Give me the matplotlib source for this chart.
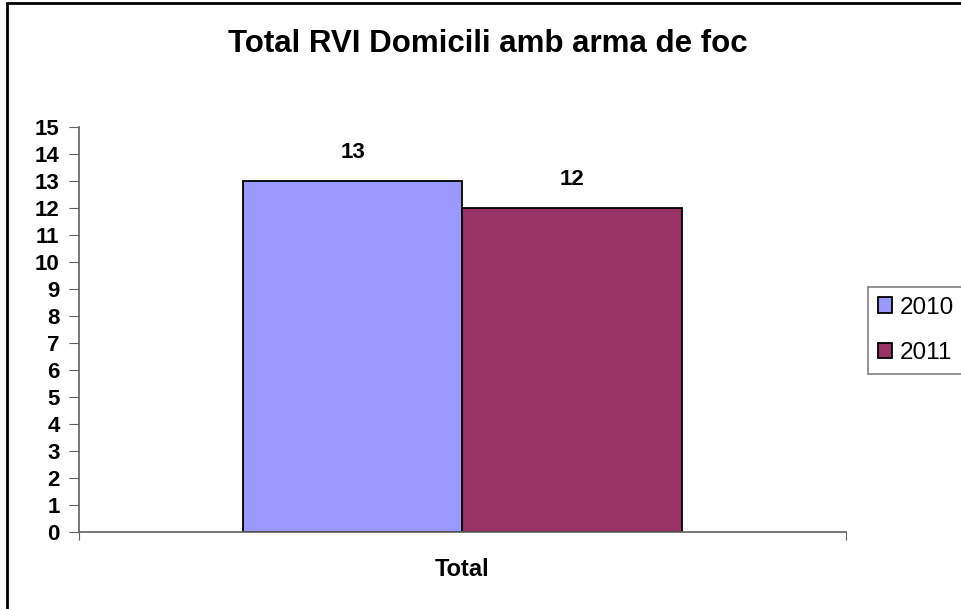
import matplotlib.pyplot as plt
import matplotlib.patches as patches
import numpy as np

plt.rcParams['font.family'] = ['Liberation Sans', 'DejaVu Sans']

# dades
categories = ['Total']
series_names = ['2010', '2011']
values_2010 = [13]
values_2011 = [12]
colors = ['#9999FF', '#993366']
yticks = list(range(0, 16))

fig = plt.figure(figsize=(9.62, 6.09), dpi=100)
ax = fig.add_axes([79 / 962, 1 - 532 / 609, (846 - 79) / 962, (532 - 127) / 609])

x = np.arange(len(categories))
w = 0.286
bars1 = ax.bar(x - w / 2, values_2010, w, color=colors[0], edgecolor='black', linewidth=1.3, label=series_names[0])
bars2 = ax.bar(x + w / 2, values_2011, w, color=colors[1], edgecolor='black', linewidth=1.3, label=series_names[1])

for b in list(bars1) + list(bars2):
    ax.annotate(str(int(b.get_height())), (b.get_x() + b.get_width() / 2, b.get_height()),
                xytext=(0, 13), textcoords='offset points', ha='center', va='bottom',
                fontsize=16, fontweight='bold')

ax.set_xlim(-0.5, 0.5)
ax.set_ylim(0, 15)
ax.set_yticks(yticks)
ax.set_yticklabels([str(t) for t in yticks], fontsize=16, fontweight='bold')
ax.set_xticks([-0.5, 0.5])
ax.set_xticklabels(['', ''])
ax.tick_params(axis='y', direction='out', length=7, color='#606060', pad=7)
ax.tick_params(axis='x', direction='out', length=6, color='#606060')
ax.text(0, -1.4, categories[0], ha='center', va='center', fontsize=17, fontweight='bold')

for s in ['top', 'right']:
    ax.spines[s].set_visible(False)
for s in ['left', 'bottom']:
    ax.spines[s].set_color('#606060')
    ax.spines[s].set_linewidth(1.2)

fig.text(0.5 * (228 + 748) / 962, 1 - 44 / 609, 'Total RVI Domicili amb arma de foc',
         ha='center', va='center', fontsize=22.5, fontweight='bold')

leg = fig.legend(loc='upper left', bbox_to_anchor=(868 / 962, 1 - 287 / 609),
                 fontsize=17.5, handlelength=0.6, handleheight=0.6, handletextpad=0.3,
                 borderpad=0.4, labelspacing=0.95, fancybox=False, borderaxespad=0)
leg.get_frame().set_edgecolor('#606060')
leg.get_frame().set_linewidth(1.2)
for h in leg.legend_handles:
    h.set_edgecolor('black')

# marc exterior
marc = patches.Rectangle((7 / 962, -0.02), 1.05, 1 - 3 / 609 + 0.02, transform=fig.transFigure,
                         fill=False, edgecolor='black', linewidth=2, clip_on=False)
fig.patches.append(marc)

fig.savefig('out.png', dpi=100)
